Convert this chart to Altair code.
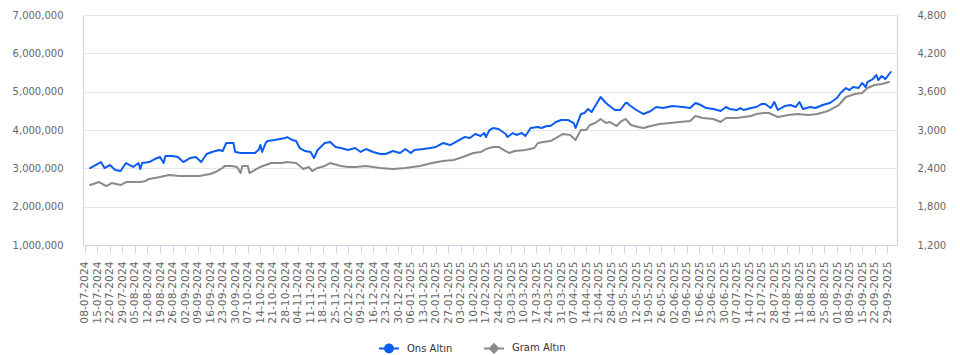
import altair as alt
import pandas as pd

# ---------------- data ----------------
ons_dates = [
    "2024-07-11", "2024-07-17", "2024-07-19", "2024-07-22", "2024-07-25", "2024-07-28", "2024-07-31",
    "2024-08-04", "2024-08-07", "2024-08-08", "2024-08-09", "2024-08-13", "2024-08-16", "2024-08-19",
    "2024-08-21", "2024-08-22", "2024-08-26", "2024-08-29", "2024-09-01", "2024-09-05", "2024-09-08",
    "2024-09-11", "2024-09-14", "2024-09-17", "2024-09-21", "2024-09-23", "2024-09-25", "2024-09-27",
    "2024-09-29", "2024-09-30", "2024-10-03", "2024-10-07", "2024-10-11", "2024-10-13", "2024-10-14",
    "2024-10-15", "2024-10-17", "2024-10-18", "2024-10-22", "2024-10-28", "2024-10-29", "2024-11-01",
    "2024-11-03", "2024-11-05", "2024-11-08", "2024-11-11", "2024-11-13", "2024-11-15", "2024-11-19",
    "2024-11-22", "2024-11-25", "2024-11-28", "2024-12-02", "2024-12-06", "2024-12-09", "2024-12-12",
    "2024-12-16", "2024-12-20", "2024-12-23", "2024-12-27", "2024-12-31", "2025-01-03", "2025-01-06",
    "2025-01-08", "2025-01-13", "2025-01-17", "2025-01-20", "2025-01-24", "2025-01-28", "2025-01-31",
    "2025-02-02", "2025-02-05", "2025-02-08", "2025-02-11", "2025-02-14", "2025-02-16", "2025-02-17",
    "2025-02-19", "2025-02-21", "2025-02-24", "2025-02-28", "2025-03-01", "2025-03-04", "2025-03-06",
    "2025-03-09", "2025-03-11", "2025-03-14", "2025-03-18", "2025-03-20", "2025-03-23", "2025-03-25",
    "2025-03-28", "2025-03-31", "2025-04-04", "2025-04-07", "2025-04-08", "2025-04-11", "2025-04-13",
    "2025-04-15", "2025-04-17", "2025-04-20", "2025-04-21", "2025-04-22", "2025-04-25", "2025-04-27",
    "2025-04-30", "2025-05-03", "2025-05-06", "2025-05-07", "2025-05-08", "2025-05-12", "2025-05-16",
    "2025-05-20", "2025-05-23", "2025-05-27", "2025-06-01", "2025-06-07", "2025-06-11", "2025-06-14",
    "2025-06-17", "2025-06-20", "2025-06-24", "2025-06-28", "2025-07-01", "2025-07-03", "2025-07-07",
    "2025-07-09", "2025-07-11", "2025-07-15", "2025-07-18", "2025-07-21", "2025-07-23", "2025-07-26",
    "2025-07-28", "2025-07-30", "2025-08-03", "2025-08-06", "2025-08-09", "2025-08-11", "2025-08-13",
    "2025-08-17", "2025-08-20", "2025-08-24", "2025-08-28", "2025-09-01", "2025-09-03", "2025-09-06",
    "2025-09-08", "2025-09-10", "2025-09-13", "2025-09-15", "2025-09-17", "2025-09-18", "2025-09-21",
    "2025-09-23", "2025-09-24", "2025-09-26", "2025-09-28", "2025-10-01",
]
ons_values = [
    2405, 2499, 2405, 2452, 2374, 2358, 2483,
    2421, 2483, 2389, 2483, 2499, 2546, 2577,
    2483, 2593, 2593, 2577, 2499, 2562, 2577,
    2499, 2624, 2656, 2687, 2671, 2796, 2796,
    2796, 2656, 2640, 2640, 2640, 2687, 2765,
    2656, 2796, 2828, 2843, 2875, 2890, 2843,
    2828, 2718, 2671, 2656, 2562, 2687, 2796,
    2812, 2734, 2718, 2687, 2718, 2656, 2702,
    2656, 2624, 2624, 2671, 2640, 2702, 2640,
    2687, 2702, 2718, 2734, 2796, 2765, 2812,
    2843, 2890, 2875, 2937, 2906, 2953, 2890,
    3000, 3031, 3016, 2937, 2890, 2953, 2922,
    2953, 2906, 3031, 3047, 3031, 3062, 3062,
    3125, 3156, 3156, 3109, 3031, 3250, 3266,
    3329, 3282, 3423, 3470, 3516, 3423, 3376,
    3313, 3313, 3423, 3423, 3391, 3313, 3250,
    3297, 3360, 3344, 3376, 3360, 3344, 3423,
    3391, 3344, 3329, 3297, 3360, 3329, 3313,
    3344, 3313, 3344, 3360, 3407, 3407, 3344,
    3438, 3313, 3376, 3391, 3360, 3438, 3329,
    3360, 3344, 3391, 3423, 3501, 3579, 3657,
    3626, 3673, 3657, 3736, 3673, 3751, 3798,
    3861, 3783, 3845, 3798, 3908,
]

gram_dates = [
    "2024-07-11", "2024-07-16", "2024-07-20", "2024-07-23", "2024-07-28", "2024-07-31", "2024-08-04",
    "2024-08-08", "2024-08-11", "2024-08-13", "2024-08-19", "2024-08-24", "2024-08-30", "2024-09-05",
    "2024-09-10", "2024-09-16", "2024-09-19", "2024-09-23", "2024-09-24", "2024-09-28", "2024-10-01",
    "2024-10-03", "2024-10-04", "2024-10-07", "2024-10-08", "2024-10-11", "2024-10-14", "2024-10-20",
    "2024-10-26", "2024-10-29", "2024-11-03", "2024-11-07", "2024-11-10", "2024-11-12", "2024-11-15",
    "2024-11-19", "2024-11-22", "2024-11-28", "2024-12-02", "2024-12-06", "2024-12-12", "2024-12-20",
    "2024-12-27", "2025-01-03", "2025-01-11", "2025-01-18", "2025-01-24", "2025-01-30", "2025-02-04",
    "2025-02-10", "2025-02-14", "2025-02-17", "2025-02-21", "2025-02-24", "2025-02-28", "2025-03-02",
    "2025-03-05", "2025-03-11", "2025-03-16", "2025-03-18", "2025-03-21", "2025-03-25", "2025-03-28",
    "2025-04-01", "2025-04-05", "2025-04-08", "2025-04-11", "2025-04-14", "2025-04-16", "2025-04-19",
    "2025-04-22", "2025-04-25", "2025-04-27", "2025-05-01", "2025-05-03", "2025-05-06", "2025-05-09",
    "2025-05-13", "2025-05-16", "2025-05-20", "2025-05-25", "2025-05-31", "2025-06-05", "2025-06-11",
    "2025-06-14", "2025-06-18", "2025-06-24", "2025-06-28", "2025-07-01", "2025-07-07", "2025-07-11",
    "2025-07-15", "2025-07-18", "2025-07-22", "2025-07-25", "2025-07-30", "2025-08-05", "2025-08-10",
    "2025-08-16", "2025-08-21", "2025-08-27", "2025-09-02", "2025-09-06", "2025-09-11", "2025-09-15",
    "2025-09-18", "2025-09-22", "2025-09-26", "2025-09-30",
]
gram_values = [
    2565000, 2643000, 2539000, 2617000, 2565000, 2643000, 2643000,
    2643000, 2670000, 2722000, 2774000, 2826000, 2800000, 2800000,
    2800000, 2852000, 2904000, 3009000, 3061000, 3061000, 3035000,
    2878000, 3061000, 3061000, 2878000, 2957000, 3035000, 3139000,
    3139000, 3165000, 3139000, 2983000, 3035000, 2930000, 3009000,
    3061000, 3139000, 3061000, 3035000, 3035000, 3061000, 3009000,
    2983000, 3009000, 3061000, 3139000, 3191000, 3217000, 3296000,
    3400000, 3426000, 3504000, 3557000, 3557000, 3452000, 3400000,
    3452000, 3478000, 3530000, 3661000, 3687000, 3713000, 3791000,
    3896000, 3870000, 3739000, 4000000, 4000000, 4130000, 4183000,
    4287000, 4183000, 4209000, 4104000, 4209000, 4287000, 4130000,
    4078000, 4052000, 4104000, 4157000, 4183000, 4209000, 4235000,
    4365000, 4313000, 4287000, 4209000, 4313000, 4313000, 4339000,
    4365000, 4417000, 4443000, 4443000, 4339000, 4391000, 4417000,
    4391000, 4417000, 4496000, 4652000, 4861000, 4939000, 4965000,
    5096000, 5174000, 5200000, 5252000,
]

series_names = ["Ons Altın", "Gram Altın"]
series_colors = ["#0b5cf0", "#8a8a8a"]
left_ticks = [1000000, 2000000, 3000000, 4000000, 5000000, 6000000, 7000000]
right_ticks = [1200, 1800, 2400, 3000, 3600, 4200, 4800]
tick_dates = [d.strftime("%Y-%m-%d") for d in pd.date_range("2024-07-08", "2025-09-29", freq="7D")]
x_domain = ["2024-07-07", "2025-10-04T12:00:00"]

# ---------------- helpers ----------------
def ms(s):
    return int(pd.Timestamp(s, tz="UTC").value // 10**6)

FONT = "DejaVu Sans"

ons_df = pd.DataFrame({"date": ons_dates, "value": ons_values})
gram_df = pd.DataFrame({"date": gram_dates, "value": gram_values})
legend_df = pd.DataFrame({"series": series_names})

x_scale = alt.Scale(type="utc", domain=[ms(x_domain[0]), ms(x_domain[1])])
x_axis = alt.Axis(
    values=[ms(d) for d in tick_dates],
    format="%d-%m-%Y",
    labelAngle=-90,
    labelFontSize=10.7,
    labelColor="#666666",
    labelFont=FONT,
    labelPadding=8,
    labelOverlap=False,
    labelFlush=False,
    tickSize=8,
    tickColor="#ccd6eb",
    domainColor="#ccd6eb",
    grid=False,
    title=None,
)


def ring_circle():
    parts = ["M-1,0L1,0"]
    for r in (0.4, 0.27, 0.14, 0.04):
        parts.append(f"M{-r},0A{r} {r} 0 1 0 {r},0A{r} {r} 0 1 0 {-r},0")
    return "".join(parts)


def ring_diamond():
    parts = ["M-1,0L1,0"]
    for d in (0.42, 0.28, 0.14, 0.04):
        parts.append(f"M0,{-d}L{d},0L0,{d}L{-d},0Z")
    return "".join(parts)


gram_line = alt.Chart(gram_df).mark_line(
    color=series_colors[1], strokeWidth=2, strokeJoin="round", strokeCap="round"
).encode(
    x=alt.X("date:T", scale=x_scale, axis=x_axis),
    y=alt.Y(
        "value:Q",
        scale=alt.Scale(domain=[left_ticks[0], left_ticks[-1]], nice=False, zero=False),
        axis=alt.Axis(
            orient="left", values=left_ticks, format=",.0f", ticks=False, tickSize=0,
            domain=False, labelPadding=20, grid=True, gridColor="#e6e6e6",
            labelFontSize=10, labelColor="#666666", labelFont=FONT, title=None,
        ),
    ),
)

ons_line = alt.Chart(ons_df).mark_line(
    color=series_colors[0], strokeWidth=2, strokeJoin="round", strokeCap="round"
).encode(
    x=alt.X("date:T", scale=x_scale, axis=x_axis),
    y=alt.Y(
        "value:Q",
        scale=alt.Scale(domain=[right_ticks[0], right_ticks[-1]], nice=False, zero=False),
        axis=alt.Axis(
            orient="right", values=right_ticks, format=",.0f", ticks=False, tickSize=0,
            domain=False, labelPadding=20, grid=False,
            labelFontSize=10, labelColor="#666666", labelFont=FONT, title=None,
        ),
    ),
)

legend_def = alt.Legend(
    title=None,
    orient="none",
    direction="horizontal",
    legendX=295,
    legendY=322,
    symbolSize=400,
    symbolStrokeWidth=2,
    symbolOpacity=1,
    labelFont=FONT,
    labelFontSize=10,
    labelColor="#333333",
    labelOffset=7,
    columnPadding=27,
    padding=0,
)

legend_layer = alt.Chart(legend_df).mark_point(opacity=0, filled=False).encode(
    color=alt.Color(
        "series:N",
        scale=alt.Scale(domain=series_names, range=series_colors),
        legend=legend_def,
    ),
    shape=alt.Shape(
        "series:N",
        scale=alt.Scale(domain=series_names, range=[ring_circle(), ring_diamond()]),
        legend=legend_def,
    ),
)

chart = (
    alt.layer(gram_line, ons_line, legend_layer)
    .resolve_scale(y="independent")
    .properties(
        width=814,
        height=230,
        autosize=alt.AutoSizeParams(type="none"),
        padding={"left": 83, "top": 15, "right": 63, "bottom": 110},
        background="white",
    )
    .configure_view(stroke="#ccd6eb", strokeWidth=1)
)

chart.save("out.html", embed_options={"renderer": "svg", "actions": False})
